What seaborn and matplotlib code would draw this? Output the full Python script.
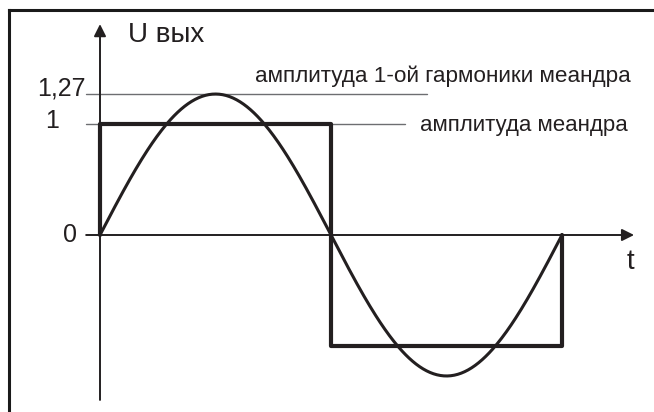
import numpy as np
import matplotlib
matplotlib.use("Agg")
import matplotlib.pyplot as plt
import seaborn as sns

# данные
period = 1.0
amp_harm = 1.27          # амплитуда 1-ой гармоники
sq_t = [0, 0, 0.5, 0.5, 1.0, 1.0]
sq_u = [0, 1, 1, -1, -1, 0]
levels = [0, 1, 1.27]
level_labels = ["0", "1", "1,27"]

t = np.linspace(0, period, 400)
u_harm = amp_harm * np.sin(2 * np.pi * t / period)

sns.set_theme(style="white")
plt.rcParams["font.family"] = ["Liberation Sans", "DejaVu Sans"]

W, H = 654, 412
fig = plt.figure(figsize=(W / 100, H / 100), dpi=100)
# пиксели -> данные: t=0 при x=100, период 462 px; u=0 при y=235, 111 px на единицу
ax = fig.add_axes([9 / W, 0, 1 - 9 / W, 1 - 10 / H])
ax.set_xlim((9 - 100) / 462, (W - 100) / 462)
ax.set_ylim(-(H - 235) / 111, (235 - 10) / 111)
ax.set_xticks([])
ax.set_yticks([])
for s in ["right", "bottom"]:
    ax.spines[s].set_visible(False)
for s in ["left", "top"]:
    ax.spines[s].set_linewidth(2.2)
    ax.spines[s].set_color("#1a1a1a")

ink = "#231f20"

# оси со стрелками
ax.annotate("", xy=(1.156, 0), xytext=(-0.03, 0),
            arrowprops=dict(arrowstyle="-|>", color=ink, lw=1.4,
                            mutation_scale=18, shrinkA=0, shrinkB=0))
ax.annotate("", xy=(0, 1.90), xytext=(0, -1.486),
            arrowprops=dict(arrowstyle="-|>", color=ink, lw=1.4,
                            mutation_scale=18, shrinkA=0, shrinkB=0))

# тонкие линии уровней
ax.plot([-0.03, 0.708], [levels[2], levels[2]], color="#6d6e71", lw=1.0)
ax.plot([-0.03, 0.66], [levels[1], levels[1]], color="#6d6e71", lw=1.0)

sns.lineplot(x=t, y=u_harm, color=ink, lw=2.2, ax=ax, sort=False, estimator=None)
sns.lineplot(x=sq_t, y=sq_u, color=ink, lw=3.0, ax=ax, sort=False, estimator=None)

ax.text(-0.032, 1.32, level_labels[2], fontsize=18, ha="right", va="center", color=ink)
ax.text(-0.104, 1.03, level_labels[1], fontsize=18, ha="center", va="center", color=ink)
ax.text(-0.065, 0.0, level_labels[0], fontsize=18, ha="center", va="center", color=ink)

ax.text(0.06, 1.80, "U вых", fontsize=20, ha="left", va="center", color=ink)
ax.text(1.149, -0.243, "t", fontsize=20, ha="center", va="center", color=ink)

ax.text(0.335, 1.43, "амплитуда 1-ой гармоники меандра", fontsize=16.2,
        ha="left", va="center", color=ink)
ax.text(0.693, 0.99, "амплитуда меандра", fontsize=16,
        ha="left", va="center", color=ink)

fig.savefig("out.png", dpi=100)
plt.close(fig)
